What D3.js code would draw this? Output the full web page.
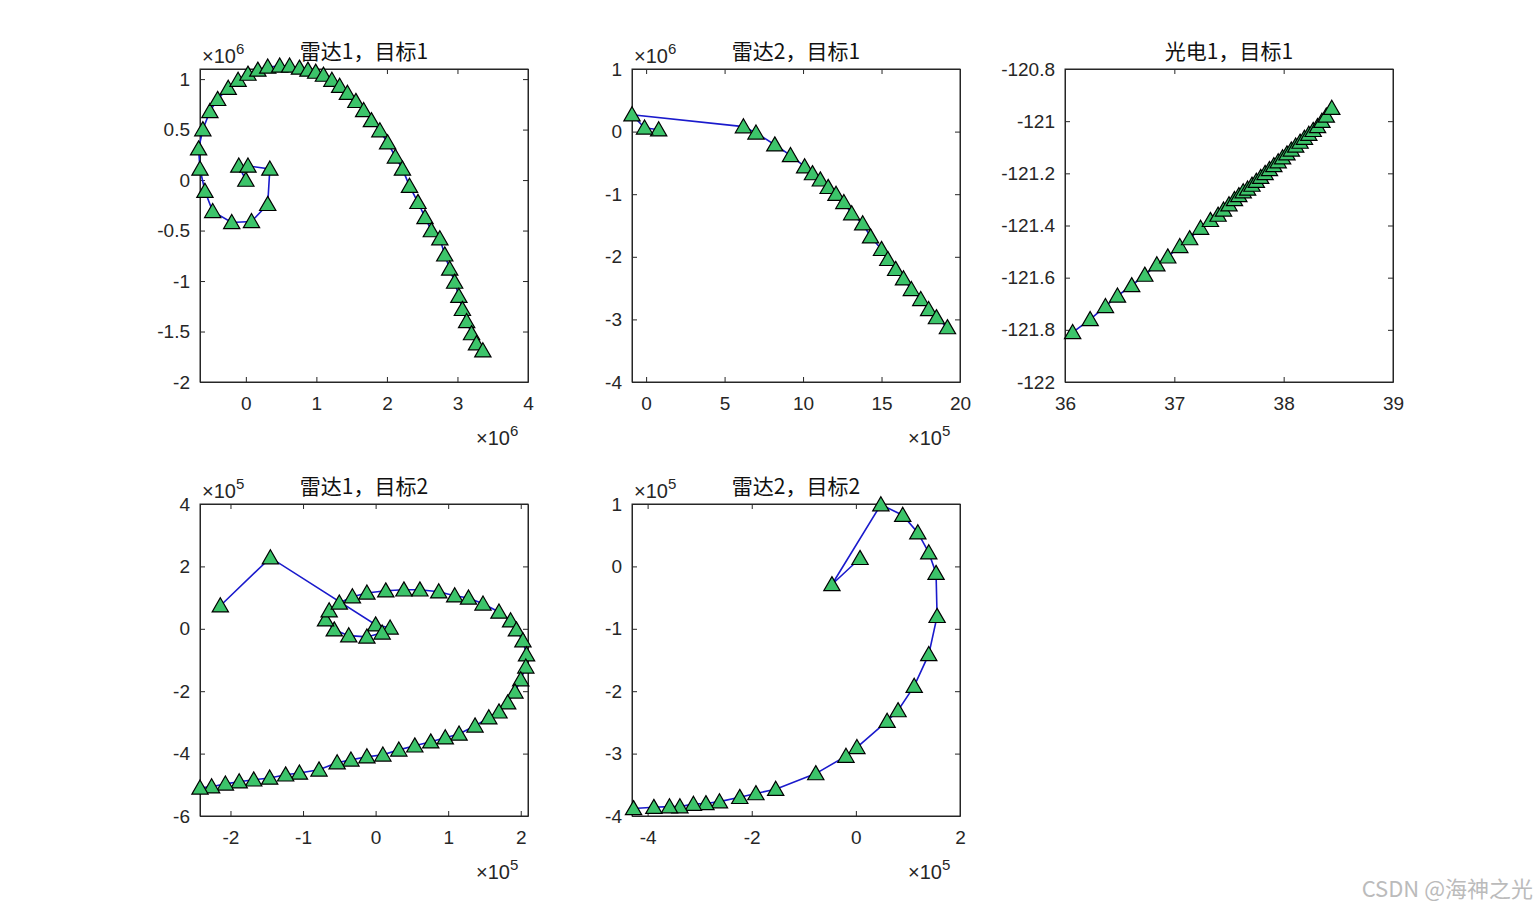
<!DOCTYPE html>
<html><head><meta charset="utf-8">
<script src="https://cdn.jsdelivr.net/npm/d3@7"></script>
<style>body{margin:0;background:#fff}text{font-family:"Liberation Sans",Arial,sans-serif}</style>
</head><body><svg id="c" width="1540" height="917"></svg>
<script>
// Radar1 target1 (x,y in 1e6)
const r1t1 = [[0,0],[-0.10,0.14],[0.03,0.14],[0.34,0.11],[0.31,-0.24],[0.08,-0.41],[-0.20,-0.42],[-0.47,-0.31],[-0.58,-0.11],[-0.65,0.11],[-0.67,0.31],[-0.61,0.50],[-0.51,0.68],[-0.40,0.80],[-0.25,0.91],[-0.11,0.99],[0.03,1.05],[0.17,1.09],[0.31,1.12],[0.48,1.13],[0.62,1.13],[0.76,1.11],[0.88,1.09],[0.99,1.07],[1.10,1.04],[1.22,0.99],[1.33,0.93],[1.44,0.86],[1.56,0.78],[1.67,0.69],[1.78,0.59],[1.90,0.49],[2.01,0.37],[2.12,0.23],[2.22,0.11],[2.32,-0.06],[2.44,-0.22],[2.54,-0.37],[2.63,-0.50],[2.75,-0.58],[2.82,-0.74],[2.89,-0.88],[2.96,-1.01],[3.02,-1.15],[3.07,-1.28],[3.13,-1.40],[3.20,-1.52],[3.27,-1.62],[3.36,-1.69]];
// Radar2 target1 (x 1e5, y 1e6)
const r2t1 = [[0.8,0.03],[-0.1,0.06],[-0.9,0.27],[6.2,0.08],[7.0,-0.02],[8.2,-0.21],[9.2,-0.38],[10.1,-0.56],[10.6,-0.67],[11.1,-0.77],[11.6,-0.89],[12.1,-1.0],[12.6,-1.13],[13.1,-1.31],[13.8,-1.47],[14.3,-1.68],[15.0,-1.88],[15.4,-2.04],[15.9,-2.2],[16.4,-2.35],[16.9,-2.52],[17.5,-2.68],[18.0,-2.84],[18.5,-2.97],[19.2,-3.13]];
// EO1 target1
const eo1t1 = [[36.07,-121.81],[36.23,-121.76],[36.37,-121.71],[36.48,-121.67],[36.61,-121.63],[36.73,-121.59],[36.84,-121.55],[36.94,-121.52],[37.05,-121.48],[37.14,-121.45],[37.24,-121.41],[37.33,-121.38],[37.40,-121.36],[37.45,-121.34],[37.50,-121.32],[37.55,-121.30],[37.59,-121.285],[37.63,-121.27],[37.67,-121.26],[37.71,-121.245],[37.75,-121.23],[37.79,-121.215],[37.83,-121.20],[37.87,-121.185],[37.91,-121.17],[37.95,-121.155],[37.99,-121.14],[38.03,-121.125],[38.07,-121.11],[38.11,-121.095],[38.15,-121.08],[38.19,-121.065],[38.23,-121.05],[38.27,-121.035],[38.31,-121.02],[38.35,-121.00],[38.39,-120.98],[38.44,-120.95]];
// Radar1 target2 (1e5)
const r1t2 = [[-2.14,0.74],[-1.45,2.28],[0,0.13],[0.2,0.03],[0.09,-0.13],[-0.12,-0.26],[-0.37,-0.22],[-0.57,-0.03],[-0.69,0.29],[-0.64,0.58],[-0.50,0.83],[-0.32,1.03],[-0.12,1.15],[0.14,1.22],[0.39,1.25],[0.61,1.25],[0.87,1.19],[1.09,1.06],[1.28,0.99],[1.48,0.80],[1.70,0.54],[1.86,0.26],[1.94,-0.03],[2.03,-0.38],[2.08,-0.83],[2.07,-1.22],[2.0,-1.63],[1.92,-2.02],[1.82,-2.37],[1.70,-2.66],[1.56,-2.85],[1.37,-3.11],[1.15,-3.37],[0.96,-3.49],[0.76,-3.62],[0.54,-3.75],[0.32,-3.88],[0.10,-4.04],[-0.12,-4.1],[-0.34,-4.2],[-0.53,-4.29],[-0.78,-4.52],[-1.05,-4.62],[-1.24,-4.68],[-1.46,-4.78],[-1.68,-4.84],[-1.88,-4.9],[-2.07,-4.97],[-2.26,-5.06],[-2.42,-5.1]];
// Radar2 target2 (1e5)
const r2t2 = [[0.08,0.13],[-0.46,-0.29],[0.48,0.99],[0.9,0.82],[1.19,0.54],[1.4,0.22],[1.54,-0.11],[1.56,-0.80],[1.4,-1.41],[1.12,-1.92],[0.81,-2.31],[0.6,-2.48],[0.02,-2.90],[-0.19,-3.04],[-0.77,-3.32],[-1.54,-3.57],[-1.92,-3.64],[-2.23,-3.70],[-2.62,-3.77],[-2.88,-3.80],[-3.12,-3.81],[-3.38,-3.85],[-3.58,-3.85],[-3.88,-3.86],[-4.27,-3.88]];

const panels = [
 {title:"雷达1，目标1", data:r1t1, box:[200,69,528,382], xd:[-0.65,4], yd:[-2,1.1], xt:[0,1,2,3,4], yt:[1,0.5,0,-0.5,-1,-1.5,-2], xe:"6", ye:"6"},
 {title:"雷达2，目标1", data:r2t1, box:[632,69,960,382], xd:[-0.9,20], yd:[-4,1], xt:[0,5,10,15,20], yt:[1,0,-1,-2,-3,-4], xe:"5", ye:"6"},
 {title:"光电1，目标1", data:eo1t1, box:[1065,69,1393,382], xd:[36,39], yd:[-122,-120.8], xt:[36,37,38,39], yt:[-120.8,-121,-121.2,-121.4,-121.6,-121.8,-122], xe:null, ye:null},
 {title:"雷达1，目标2", data:r1t2, box:[200,504,528,816], xd:[-2.42,2.1], yd:[-6,4], xt:[-2,-1,0,1,2], yt:[4,2,0,-2,-4,-6], xe:"5", ye:"5"},
 {title:"雷达2，目标2", data:r2t2, box:[632,504,960,816], xd:[-4.3,2], yd:[-4,1], xt:[-4,-2,0,2], yt:[1,0,-1,-2,-3,-4], xe:"5", ye:"5"}
];
const svg = d3.select("#c");
const tri = d3.symbol().type(d3.symbolTriangle).size(115);
const fmt = d=>String(d);
panels.forEach(p=>{
  const [x0,y0,x1,y1]=p.box;
  const x=d3.scaleLinear().domain(p.xd).range([x0,x1]);
  const y=d3.scaleLinear().domain(p.yd).range([y1,y0]);
  const g=svg.append("g");
  g.append("g").attr("transform",`translate(0,${y1})`).call(d3.axisBottom(x).tickValues(p.xt).tickSizeInner(-5).tickSizeOuter(0).tickPadding(15).tickFormat(fmt));
  g.append("g").attr("transform",`translate(${x0},0)`).call(d3.axisLeft(y).tickValues(p.yt).tickSizeInner(-5).tickSizeOuter(0).tickPadding(10).tickFormat(fmt));
  g.append("g").attr("transform",`translate(0,${y0})`).call(d3.axisTop(x).tickValues(p.xt).tickSizeInner(-5).tickSizeOuter(0).tickFormat(""));
  g.append("g").attr("transform",`translate(${x1},0)`).call(d3.axisRight(y).tickValues(p.yt).tickSizeInner(-5).tickSizeOuter(0).tickFormat(""));
  g.selectAll(".domain").attr("stroke","#262626");
  g.selectAll(".tick line").attr("stroke","#262626");
  g.selectAll(".tick text").attr("font-size","19px").attr("fill","#262626").style("font-family","Liberation Sans, Arial");
  g.append("rect").attr("x",x0).attr("y",y0).attr("width",x1-x0).attr("height",y1-y0).attr("fill","none").attr("stroke","#262626");
  g.append("text").attr("x",(x0+x1)/2).attr("y",y0-10).attr("text-anchor","middle").attr("font-size","21px").attr("fill","#111").style("font-family","Noto Sans CJK SC").text(p.title);
  if(p.ye){const t=g.append("text").attr("x",x0+2).attr("y",y0-6).attr("font-size","20px").attr("fill","#262626");
    t.append("tspan").text("×10"); t.append("tspan").attr("dy",-9).attr("font-size","15px").text(p.ye);}
  if(p.xe){const t=g.append("text").attr("x",x1-52).attr("y",y1+63).attr("font-size","20px").attr("fill","#262626");
    t.append("tspan").text("×10"); t.append("tspan").attr("dy",-9).attr("font-size","15px").text(p.xe);}
  g.append("path").datum(p.data).attr("fill","none").attr("stroke","#1a1acc").attr("stroke-width",1.6)
    .attr("d",d3.line().x(d=>x(d[0])).y(d=>y(d[1])));
  g.selectAll(".m").data(p.data).join("path").attr("transform",d=>`translate(${x(d[0])},${y(d[1])+1.5})`)
    .attr("d",tri).attr("fill","#3cc46a").attr("stroke","#000").attr("stroke-width",1.2);
});
svg.append("text").attr("x",1533).attr("y",897).attr("text-anchor","end").attr("font-size","22px").attr("fill","#bbb").style("font-family","Noto Sans CJK SC").text("CSDN @海神之光");
</script></body></html>
